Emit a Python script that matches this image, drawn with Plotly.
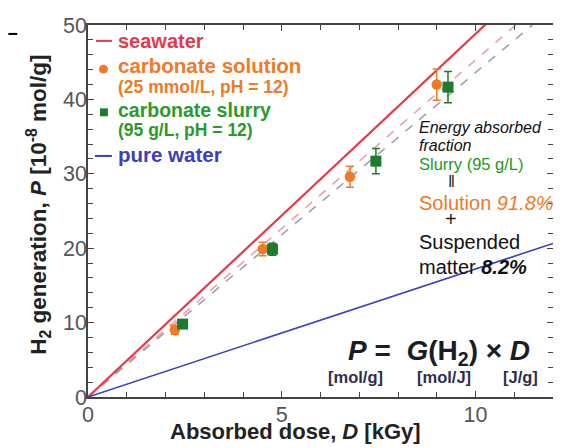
import plotly.graph_objects as go

# ---------------- data ----------------
solution_dose = [2.24, 4.51, 6.76, 9.00]
solution_h2 = [9.0, 19.9, 29.6, 42.0]
solution_err = [0.6, 0.9, 1.4, 2.1]

slurry_dose = [2.44, 4.76, 7.43, 9.29]
slurry_h2 = [9.8, 19.85, 31.7, 41.65]
slurry_err = [0.5, 0.8, 1.7, 2.1]

line_dose = [0, 12]
seawater_slope = 4.88
pure_water_slope = 1.72
solution_fit_slope = 4.53
slurry_fit_slope = 4.36

FONT = "Liberation Sans, Arial, sans-serif"
RED = "#e63a4c"
ORANGE = "#f07a26"
GREEN = "#1e7a2c"
GREEN_TXT = "#2a9a2a"
BLUE = "#3c3cc4"

# page has an 8px body margin: figure occupies page pixels 8..561 x 8..448
OFF = 8
W, H = 561 - OFF, 448 - OFF
L, R, T, B = 88 - OFF, 6, 22 - OFF, 51
PW, PH = W - L - R, H - T - B


def px(x):  # page pixel -> paper coordinate
    return (x - OFF - L) / PW


def py(y):
    return (H + OFF - B - y) / PH


fig = go.Figure()

# fit / reference lines
fig.add_trace(go.Scatter(x=line_dose, y=[solution_fit_slope * d for d in line_dose], mode="lines",
                         line=dict(color="#eaa2a6", width=1.6, dash="dash"), showlegend=False))
fig.add_trace(go.Scatter(x=line_dose, y=[slurry_fit_slope * d for d in line_dose], mode="lines",
                         line=dict(color="#9ea2ae", width=1.6, dash="dash"), showlegend=False))
fig.add_trace(go.Scatter(x=line_dose, y=[seawater_slope * d for d in line_dose], mode="lines",
                         line=dict(color=RED, width=2.2), showlegend=False))
fig.add_trace(go.Scatter(x=line_dose, y=[pure_water_slope * d for d in line_dose], mode="lines",
                         line=dict(color=BLUE, width=1.6), showlegend=False))

# data points
fig.add_trace(go.Scatter(x=solution_dose, y=solution_h2, mode="markers",
                         marker=dict(symbol="circle", size=10.5, color=ORANGE),
                         error_y=dict(type="data", array=solution_err, color=ORANGE, thickness=1.5, width=4),
                         showlegend=False))
fig.add_trace(go.Scatter(x=slurry_dose, y=slurry_h2, mode="markers",
                         marker=dict(symbol="square", size=11, color=GREEN),
                         error_y=dict(type="data", array=slurry_err, color=GREEN, thickness=1.5, width=4),
                         showlegend=False))

ann = []


def text(x, y, s, size, color, xanchor="left", **kw):
    ann.append(dict(x=px(x), y=py(y), xref="paper", yref="paper", text=s, showarrow=False,
                    xanchor=xanchor, yanchor="middle", font=dict(family=FONT, size=size, color=color), **kw))


# legend
text(116, 38, "<b>seawater</b>", 20, RED)
text(116, 63, "<b>carbonate solution</b>", 20.5, ORANGE)
text(116, 85, "<b>(25 mmol/L, pH = 12)</b>", 17.5, ORANGE)
text(116, 108, "<b>carbonate slurry</b>", 19.5, GREEN_TXT)
text(116, 128, "<b>(95 g/L, pH = 12)</b>", 17.5, GREEN_TXT)
text(116, 153, "<b>pure water</b>", 20.5, BLUE)

# side note
text(418, 125, "<i>Energy absorbed</i>", 16, "#111")
text(418, 143, "<i>fraction</i>", 16, "#111")
text(418, 162, "Slurry (95 g/L)", 16.5, "#1a9a1a")
text(453, 180, "‖", 17, "#222", xanchor="center")
text(418, 201, "Solution <i>91.8%</i>", 20, ORANGE)
text(453, 218, "+", 20, "#222", xanchor="center")
text(418, 241, "Suspended", 20, "#111")
text(418, 266, "matter <b><i>8.2%</i></b>", 20, "#111")

# equation
text(347, 352, "<b><i>P</i> =  <i>G</i>(H<sub>2</sub>) × <i>D</i></b>", 28, "#1c1c24")
text(357, 377, "<b>[mol/g]</b>", 16.5, "#2e2e50", xanchor="center")
text(446, 377, "<b>[mol/J]</b>", 16.5, "#2e2e50", xanchor="center")
text(522, 377, "<b>[J/g]</b>", 16.5, "#2e2e50", xanchor="center")

# axis titles
text(296, 432, "<b>Absorbed dose, <i>D</i> [kGy]</b>", 22, "#222", xanchor="center")
ann.append(dict(x=px(38), y=py(203), xref="paper", yref="paper",
                text="<b>H<sub>2</sub> generation, <i>P</i> [10<sup>-8</sup> mol/g]</b>",
                showarrow=False, textangle=-90, xanchor="center", yanchor="middle",
                font=dict(family=FONT, size=22.5, color="#222")))

shapes = [
    # legend glyphs
    dict(type="line", xref="paper", yref="paper", x0=px(96), x1=px(112), y0=py(38), y1=py(38),
         line=dict(color=RED, width=2)),
    dict(type="circle", xref="paper", yref="paper", x0=px(99), x1=px(108), y0=py(62), y1=py(71),
         fillcolor=ORANGE, line=dict(width=0)),
    dict(type="rect", xref="paper", yref="paper", x0=px(100), x1=px(108), y0=py(106), y1=py(114),
         fillcolor=GREEN, line=dict(width=0)),
    dict(type="line", xref="paper", yref="paper", x0=px(95), x1=px(112), y0=py(154), y1=py(154),
         line=dict(color=BLUE, width=2)),
    # stray line at top-left of the reference image
    dict(type="line", xref="paper", yref="paper", x0=px(8), x1=px(17), y0=py(31), y1=py(31),
         line=dict(color="#000", width=2)),
]

axis_common = dict(showline=True, linecolor="#444", linewidth=1.5, mirror="ticks", ticks="inside",
                   ticklen=6, tickcolor="#444", tickwidth=1.3, showgrid=False, zeroline=False,
                   tickfont=dict(family=FONT, size=21.5, color="#555"))

fig.update_layout(
    width=W, height=H,
    margin=dict(l=L, r=R, t=T, b=B),
    paper_bgcolor="white", plot_bgcolor="white",
    showlegend=False,
    annotations=ann,
    shapes=shapes,
    xaxis=dict(range=[0, 12], dtick=5, minor=dict(dtick=1, ticks="inside", ticklen=5, tickcolor="#444"),
               ticklabelstandoff=-3, **axis_common),
    yaxis=dict(range=[0, 50], dtick=10, minor=dict(dtick=2, ticks="inside", ticklen=5, tickcolor="#444"),
               ticklabelstandoff=-5, **axis_common),
)

fig.write_html("out.html")
